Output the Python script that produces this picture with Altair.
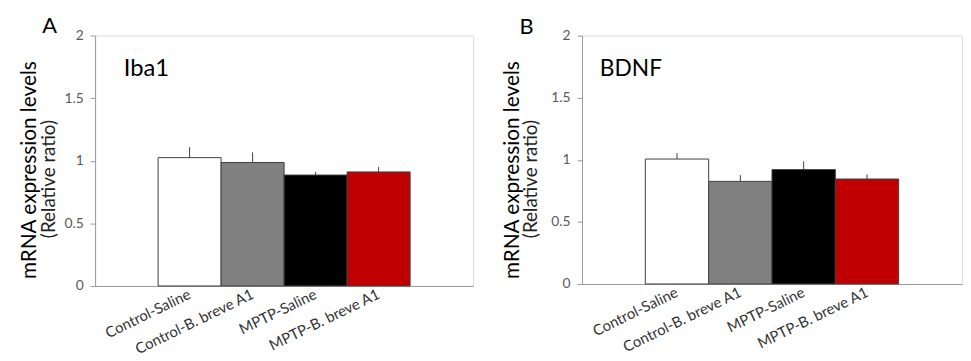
import altair as alt
import pandas as pd

categories = ["Control-Saline", "Control-B. breve A1", "MPTP-Saline", "MPTP-B. breve A1"]
bar_colors = ["#ffffff", "#808080", "#000000", "#c00000"]

iba1_mean = [1.025, 0.986, 0.886, 0.911]
iba1_sem = [0.084, 0.081, 0.024, 0.040]

bdnf_mean = [1.006, 0.826, 0.921, 0.845]
bdnf_sem = [0.048, 0.050, 0.067, 0.037]

y_ticks = [0, 0.5, 1, 1.5, 2]

FONT = "Lato"
FRAME = "#9a9a9a"


def text_layer(txt, x, y, size, angle=0, align="left", color="#000000"):
    kw = dict(fontSize=size, font=FONT, color=color, align=align, baseline="middle")
    if angle:
        kw["angle"] = angle
        kw["baseline"] = "alphabetic"
    return alt.Chart(pd.DataFrame({"t": [txt]})).mark_text(**kw).encode(
        text="t:N", x=alt.value(x), y=alt.value(y)
    )


def panel(mean, sem, gene, letter, w, h, off):
    df = pd.DataFrame({
        "group": categories,
        "mean": mean,
        "upper": [m + s for m, s in zip(mean, sem)],
    })
    base = alt.Chart(df)
    x = alt.X(
        "group:N", sort=categories,
        scale=alt.Scale(paddingInner=0, paddingOuter=1),
        axis=alt.Axis(title=None, labelAngle=334, labelAlign="right", labelBaseline="middle",
                      labelFontSize=15, labelFont=FONT, labelColor="#333333", ticks=False,
                      labelPadding=7, domainColor=FRAME),
    )
    y = alt.Y(
        "mean:Q", scale=alt.Scale(domain=[0, 2]),
        axis=alt.Axis(title=None, values=y_ticks, format="~g", ticks=True, tickSize=5,
                      tickColor=FRAME, grid=False,
                      labelPadding=7, labelFontSize=14, labelFont=FONT,
                      labelColor="#595959", domainColor=FRAME),
    )
    bars = base.mark_bar(stroke="#404040", strokeWidth=1).encode(
        x=x, y=y,
        color=alt.Color("group:N", scale=alt.Scale(domain=categories, range=bar_colors), legend=None),
    )
    err = base.mark_rule(color="#404040", strokeWidth=1).encode(
        x=alt.X("group:N", sort=categories), y="mean:Q", y2="upper:Q"
    )
    anchor = alt.Chart(pd.DataFrame({"a": [0]})).mark_rule(opacity=0).encode(
        x=alt.value(-87), y=alt.value(-25), y2=alt.value(h)
    )
    layers = [
        anchor, bars, err,
        text_layer(letter, off["lx"], off["ly"], 22, align="center"),
        text_layer(gene, off["gx"], off["gy"], off["gs"]),
        text_layer("mRNA expression levels", off["tx"], off["ty"], 21, angle=270, align="center"),
        text_layer("(Relative ratio)", off["sx"], off["sy"], 19, angle=270, align="center", color="#222222"),
    ]
    return alt.layer(*layers).properties(width=w, height=h)


pa = panel(iba1_mean, iba1_sem, "Iba1", "A", 382, 253,
           dict(lx=-46, ly=-10, gx=29, gy=34, gs=24, tx=-60, ty=136, sx=-41, sy=145))
pb = panel(bdnf_mean, bdnf_sem, "BDNF", "B", 384, 251,
           dict(lx=-56, ly=-9, gx=18, gy=34, gs=23, tx=-64, ty=136, sx=-45, sy=145))

chart = alt.hconcat(pa, pb, spacing=110, bounds="flush").properties(
    padding={"left": 0, "top": 0, "right": 0, "bottom": 5}
).configure_view(stroke=FRAME, strokeWidth=1).configure(background="#ffffff")

chart.save("out.html", embed_options={"renderer": "svg", "actions": False})
